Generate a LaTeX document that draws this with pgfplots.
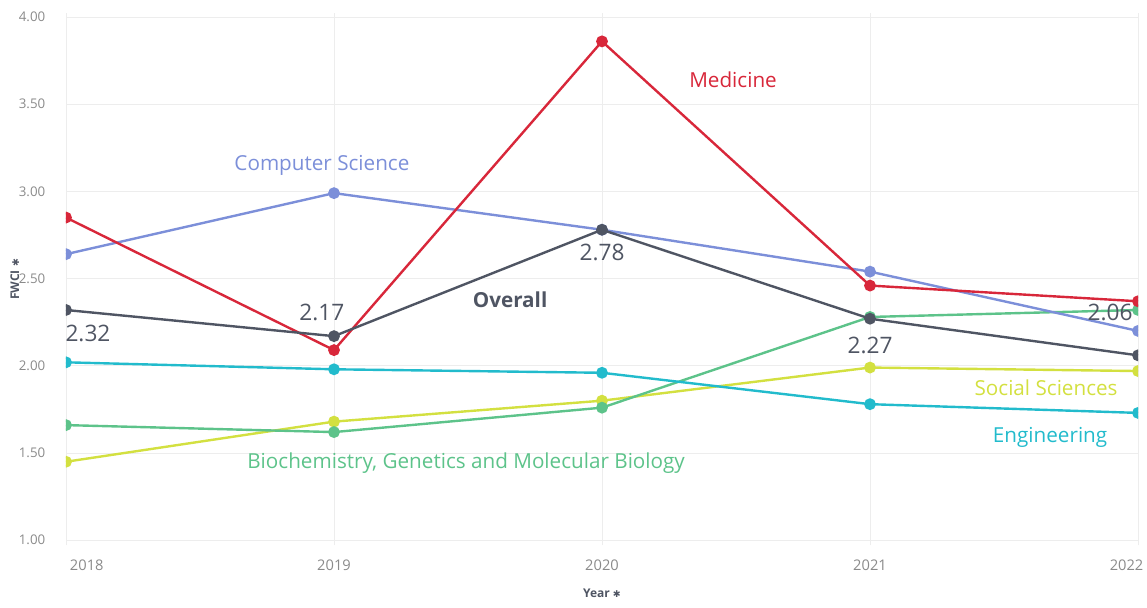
\documentclass[border=0pt]{standalone}
\usepackage{fontspec}
\setmainfont{Open Sans}
\newfontfamily\symfont{DejaVu Sans}
\usepackage{pgfplots}
\pgfplotsset{compat=1.18}
\definecolor{med}{HTML}{D8273A}
\definecolor{cs}{HTML}{7C8FD9}
\definecolor{ovr}{HTML}{4F5563}
\definecolor{eng}{HTML}{22BBCC}
\definecolor{bio}{HTML}{5DC38A}
\definecolor{soc}{HTML}{D3E040}
\definecolor{tick}{HTML}{8A8A8A}
\begin{document}
\begin{tikzpicture}
\begin{axis}[
  scale only axis, width=804pt, height=399pt,
  xmin=2018, xmax=2022, ymin=0.97, ymax=4.02,
  xtick={2018,2019,2020,2021,2022},
  xticklabels={\makebox[0pt][l]{\hspace{3pt}2018},2019,2020,2021,\makebox[0pt][r]{2022\hspace{-4pt}}},
  ytick={1,1.5,2,2.5,3,3.5,4},
  /pgf/number format/assume math mode=true,
  y tick label style={/pgf/number format/fixed,/pgf/number format/fixed zerofill,/pgf/number format/precision=2,
     font=\fontsize{10}{12}\selectfont, text=tick, xshift=-12pt},
  x tick label style={font=\fontsize{11}{13}\selectfont, text=tick, yshift=-7pt},
  axis line style={draw=none},
  major tick length=0pt,
  grid=major,
  major grid style={black!7, line width=0.6pt},
  clip mode=individual,
  clip marker paths=true,
  xlabel={\textbf{Year} {\symfont\fontsize{7}{8}\selectfont ✱}},
  ylabel={\textbf{FWCI} {\symfont\fontsize{7}{8}\selectfont ✱}},
  every axis x label/.style={at={(axis description cs:0.5,-0.09)}, anchor=center, font=\fontsize{9}{11}\selectfont, text=ovr},
  every axis y label/.style={at={(axis description cs:-0.0476,0.5)}, anchor=center, rotate=90, font=\fontsize{9}{11}\selectfont, text=ovr},
  every axis plot/.append style={line width=1.8pt, mark=*, mark size=3.5pt},
]
\addplot[soc, mark options={fill=soc}] coordinates {(2018,1.45) (2019,1.68) (2020,1.80) (2021,1.99) (2022,1.97)};
\addplot[bio, mark options={fill=bio}] coordinates {(2018,1.66) (2019,1.62) (2020,1.76) (2021,2.28) (2022,2.32)};
\addplot[eng, mark options={fill=eng}] coordinates {(2018,2.02) (2019,1.98) (2020,1.96) (2021,1.78) (2022,1.73)};
\addplot[cs, mark options={fill=cs}] coordinates {(2018,2.64) (2019,2.99) (2020,2.78) (2021,2.54) (2022,2.20)};
\addplot[med, mark options={fill=med}] coordinates {(2018,2.85) (2019,2.09) (2020,3.86) (2021,2.46) (2022,2.37)};
\addplot[ovr, mark options={fill=ovr}] coordinates {(2018,2.32) (2019,2.17) (2020,2.78) (2021,2.27) (2022,2.06)};

\begin{scope}[every node/.style={font=\fontsize{17}{20}\selectfont, text=ovr}]
\node at (axis cs:2018.082,2.187) {2.32};
\node at (axis cs:2018.955,2.308) {2.17};
\node at (axis cs:2020,2.652) {2.78};
\node at (axis cs:2021,2.118) {2.27};
\node at (axis cs:2021.896,2.308) {2.06};
\end{scope}
\begin{scope}[every node/.style={font=\fontsize{15.5}{18}\selectfont}]
\node[text=med] at (axis cs:2020.489,3.639) {Medicine};
\node[text=cs] at (axis cs:2018.955,3.151) {Computer Science};
\node[text=ovr] at (axis cs:2019.657,2.376) {\textbf{Overall}};
\node[text=bio] at (axis cs:2019.493,1.441) {Biochemistry, Genetics and Molecular Biology};
\node[text=soc] at (axis cs:2021.657,1.877) {Social Sciences};
\node[text=eng] at (axis cs:2021.672,1.590) {Engineering};
\end{scope}
\end{axis}
\pgfresetboundingbox
\path[use as bounding box] ([shift={(-49.5pt,-46.35pt)}]current axis.south west) rectangle ([shift={(6.75pt,10.1pt)}]current axis.north east);
\end{tikzpicture}
\end{document}
